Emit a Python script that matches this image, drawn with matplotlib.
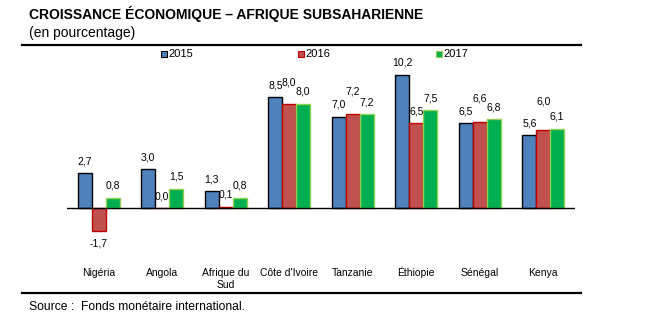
import matplotlib
matplotlib.use("Agg")
import matplotlib.pyplot as plt
from matplotlib.patches import Rectangle
from matplotlib.lines import Line2D
from matplotlib.transforms import blended_transform_factory
import numpy as np

plt.rcParams['font.family'] = ['Liberation Sans', 'DejaVu Sans']

categories = ["Nigéria", "Angola", "Afrique du\nSud", "Côte d'Ivoire", "Tanzanie",
              "Éthiopie", "Sénégal", "Kenya"]
years = ["2015", "2016", "2017"]
v2015 = [2.7, 3.0, 1.3, 8.5, 7.0, 10.2, 6.5, 5.6]
v2016 = [-1.7, 0.0, 0.1, 8.0, 7.2, 6.5, 6.6, 6.0]
v2017 = [0.8, 1.5, 0.8, 8.0, 7.2, 7.5, 6.8, 6.1]
series = [v2015, v2016, v2017]

face = ["#4F81BD", "#C0504D", "#00B050"]
edge = ["#000000", "#C00000", "#92D050"]
# extra label lift (px) for crowded labels, per series
extra = [[0] * 8, [0, 0, 0, 9, 11, 0, 12, 16], [0] * 8]

W, H = 654, 325
fig = plt.figure(figsize=(W / 100, H / 100), dpi=100)

def fx(px):
    return px / W

def fy(py):
    return 1 - py / H

ax_left, ax_right, ax_top, ax_bot = 67, 575, 62, 250
zero_px = 208.3
scale = 13.07
ax = fig.add_axes([fx(ax_left), fy(ax_bot), fx(ax_right - ax_left), fy(ax_top) - fy(ax_bot)])
ax.set_ylim(-(ax_bot - zero_px) / scale, (zero_px - ax_top) / scale)
ax.set_xlim(-0.5, len(categories) - 0.5)

x = np.arange(len(categories))
bw = 0.22
PT = 72 / 100  # points per pixel
for i, vals in enumerate(series):
    xs = x + (i - 1) * bw
    ax.bar(xs, vals, width=bw, color=face[i], edgecolor=edge[i], linewidth=1.0, zorder=2)
    for j, (xx, v) in enumerate(zip(xs, vals)):
        lab = f"{v:.1f}".replace(".", ",")
        if v < 0:
            off = -13 * PT
        else:
            off = (12 + extra[i][j]) * PT
        ax.annotate(lab, (xx, v), xytext=(0, off), textcoords="offset points",
                    ha="center", va="center", fontsize=7.5, color="#000000")

ax.axhline(0, color="black", linewidth=1.0, zorder=3)
ax.set_xticks([])
ax.set_yticks([])
for s in ax.spines.values():
    s.set_visible(False)
ax.patch.set_visible(False)

# category labels, baseline-aligned
trans = blended_transform_factory(ax.transData, fig.transFigure)
for xi, cat in zip(x, categories):
    lines = cat.split("\n")
    for k, line in enumerate(lines):
        ax.text(xi, fy(276.5 + 12 * k), line, transform=trans, ha="center",
                va="baseline", fontsize=7.5)

# title and subtitle
fig.text(fx(29), fy(14.5), "CROISSANCE ÉCONOMIQUE – AFRIQUE SUBSAHARIENNE",
         fontsize=10, fontweight="bold", va="center", ha="left")
fig.text(fx(29), fy(32.5), "(en pourcentage)", fontsize=10, va="center", ha="left")

# rules
fig.add_artist(Line2D([fx(22), fx(581)], [fy(45), fy(45)], color="black", linewidth=1.6))
fig.add_artist(Line2D([fx(22), fx(581)], [fy(293), fy(293)], color="black", linewidth=1.6))

# legend
leg_x = [161, 298, 436]
for i, yr in enumerate(years):
    fig.add_artist(Rectangle((fx(leg_x[i]), fy(57)), fx(6), fy(51) - fy(57),
                             facecolor=face[i], edgecolor=edge[i], linewidth=0.8,
                             transform=fig.transFigure))
    fig.text(fx(leg_x[i] + 7.5), fy(54), yr, fontsize=8, va="center", ha="left")

fig.text(fx(29), fy(306.7), "Source :  Fonds monétaire international.", fontsize=8.7,
         va="center", ha="left")

fig.savefig("out.png", dpi=100)
